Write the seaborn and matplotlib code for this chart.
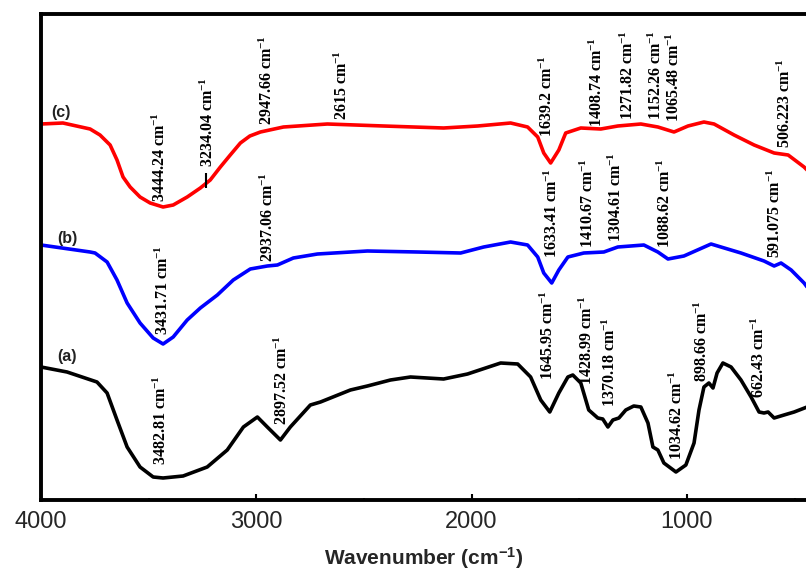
import numpy as np
import pandas as pd
import matplotlib
matplotlib.use("Agg")
import matplotlib.pyplot as plt
import seaborn as sns

# ---------------- data ----------------
# (a) black spectrum
wn_a = [4000, 3879, 3740, 3693, 3647, 3600, 3540, 3479, 3433, 3340, 3228, 3135, 3060,
        2995, 2949, 2888, 2842, 2749, 2702, 2563, 2484, 2377, 2284, 2130, 2019, 1865,
        1786, 1726, 1679, 1637, 1595, 1553, 1530, 1493, 1456, 1414, 1391, 1367, 1344,
        1316, 1284, 1247, 1214, 1181, 1158, 1135, 1107, 1051, 1005, 967, 944, 921, 898,
        879, 860, 833, 795, 749, 702, 665, 642, 623, 595, 549, 502, 442]
t_a = [134, 129, 119, 108, 81, 54, 34, 24, 23, 25, 34, 51, 74,
       84, 74, 61, 74, 96, 99, 111, 115, 121, 124, 122, 127, 138,
       137, 124, 101, 89, 108, 124, 126, 118, 91, 83, 82, 74, 81,
       83, 91, 95, 94, 78, 54, 51, 38, 29, 36, 58, 91, 114, 118,
       113, 128, 138, 134, 121, 104, 89, 88, 89, 83, 86, 89, 94]

# (b) blue spectrum
wn_b = [4000, 3772, 3749, 3693, 3647, 3600, 3540, 3479, 3433, 3386, 3321, 3260, 3181,
        3107, 3028, 2949, 2902, 2828, 2716, 2484, 2251, 2051, 1944, 1819, 1740, 1693,
        1665, 1628, 1595, 1553, 1479, 1386, 1321, 1200, 1135, 1088, 1014, 888, 842,
        749, 642, 595, 563, 516, 456, 442]
t_b = [256, 249, 248, 239, 221, 198, 178, 163, 157, 164, 181, 193, 206,
       221, 232, 235, 236, 243, 247, 250, 249, 248, 254, 259, 256, 244,
       228, 218, 231, 244, 248, 249, 254, 256, 249, 242, 245, 257, 254,
       248, 240, 235, 238, 231, 218, 214]

# (c) red spectrum
wn_c = [4000, 3898, 3772, 3726, 3679, 3647, 3619, 3586, 3540, 3493, 3433, 3386, 3321,
        3260, 3214, 3167, 3121, 3074, 3030, 2981, 2874, 2670, 2409, 2130, 1972, 1819,
        1740, 1693, 1665, 1633, 1595, 1563, 1493, 1400, 1321, 1214, 1135, 1060, 995,
        921, 874, 781, 688, 595, 530, 456, 442]
t_c = [377, 378, 372, 366, 356, 341, 324, 314, 304, 298, 294, 296, 304,
       313, 321, 334, 346, 358, 365, 369, 374, 377, 375, 373, 375, 378,
       374, 364, 348, 338, 351, 368, 373, 372, 375, 377, 374, 369, 375,
       379, 377, 366, 356, 348, 346, 334, 331]

# peak labels (wavenumber strings) and the height where each label starts
peaks_a = ["3482.81", "2897.52", "1645.95", "1428.99", "1370.18", "1034.62", "898.66", "662.43"]
laby_a = [36, 76, 121, 116, 94, 41, 119, 103]
peaks_b = ["3431.71", "2937.06", "1633.41", "1410.67", "1304.61", "1088.62", "591.075"]
laby_b = [166, 239, 243, 253, 259, 253, 243]
peaks_c = ["3444.24", "3234.04", "2947.66", "2615", "1639.2", "1408.74", "1271.82",
           "1152.26", "1065.48", "506.223"]
laby_c = [299, 334, 376, 381, 364, 374, 381, 381, 379, 353]

# small horizontal nudges (pixels) for label placement
dx_a = [9, 4, 0, -7, 3, -2, -6, 0]
dx_b = [0, -2, 2, -10, -5, -3, 0]
dx_c = [0, 2, 0, 3, -2, -2, 0, 2, 2, -8]

sample_names = ["(a)", "(b)", "(c)"]
sample_colors = ["#000000", "#0000ff", "#ff0000"]
sample_tag_pos = [(3879, 144), (3879, 262), (3907, 388)]

# ---------------- style ----------------
sns.set_theme(style="white")
plt.rcParams["font.family"] = ["Liberation Sans", "DejaVu Sans"]
plt.rcParams["mathtext.fontset"] = "custom"
plt.rcParams["mathtext.rm"] = "Liberation Serif:bold"
plt.rcParams["mathtext.it"] = "Liberation Serif:italic"
plt.rcParams["mathtext.bf"] = "Liberation Serif:bold"
plt.rcParams["mathtext.sf"] = "Liberation Sans:bold"

fig = plt.figure(figsize=(8.06, 5.71), dpi=100)
ax = fig.add_axes([41 / 806, 1 - 500 / 571, 1 - 41 / 806, (500 - 14) / 571])

df = pd.concat([
    pd.DataFrame({"wn": wn_a, "t": t_a, "sample": "(a)"}),
    pd.DataFrame({"wn": wn_b, "t": t_b, "sample": "(b)"}),
    pd.DataFrame({"wn": wn_c, "t": t_c, "sample": "(c)"}),
])
sns.lineplot(data=df, x="wn", y="t", hue="sample",
             palette=dict(zip(sample_names, sample_colors)),
             linewidth=2.6, estimator=None, legend=False, ax=ax)

ax.set_xlim(4000, 447)
ax.set_ylim(1, 487)

# peak annotations
for peaks, ys, dxs in [(peaks_a, laby_a, dx_a), (peaks_b, laby_b, dx_b), (peaks_c, laby_c, dx_c)]:
    for p, y, dx in zip(peaks, ys, dxs):
        ax.annotate(p + " cm$^{-1}$", xy=(float(p), y), xytext=(dx * 0.72, 0),
                    textcoords="offset points", rotation=90, ha="center", va="bottom",
                    fontsize=11.5, family="Liberation Serif", fontweight="bold",
                    color="black", annotation_clip=False)

# small marker at 3234.04 on curve (c)
ax.vlines(float(peaks_c[1]), 313, 328, color="black", linewidth=1.5)

for name, (x, y) in zip(sample_names, sample_tag_pos):
    ax.text(x, y, name, ha="center", va="center", fontsize=11.5, fontweight="bold",
            color="#222222")

# axes styling
for s in ["left", "bottom", "top"]:
    ax.spines[s].set_linewidth(2.8)
    ax.spines[s].set_color("black")
ax.spines["right"].set_visible(False)

ax.set_xticks([4000, 3000, 2000, 1000])
ax.set_xticks([3500, 2500, 1500, 500], minor=True)
ax.set_yticks([])
ax.tick_params(axis="x", which="major", direction="in", length=4, width=1.5,
               labelsize=17, pad=8, bottom=True, color="black")
ax.tick_params(axis="x", which="minor", direction="in", length=1.5, width=1.5,
               bottom=True, color="black")
ax.set_xlabel("Wavenumber (cm$^{\\mathsf{-1}}$)", fontsize=15, fontweight="bold",
              labelpad=9)
ax.set_ylabel("")

fig.savefig("out.png", dpi=100)
